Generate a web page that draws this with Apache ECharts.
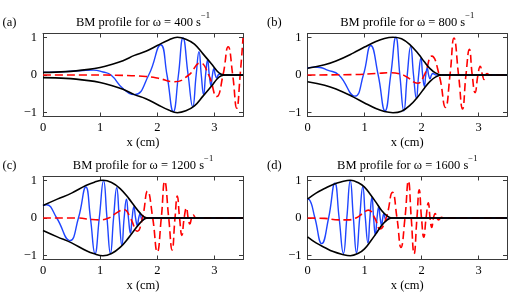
<!DOCTYPE html>
<html><head><meta charset="utf-8">
<script src="https://cdn.jsdelivr.net/npm/echarts@6/dist/echarts.min.js"></script>
<style>html,body{margin:0;padding:0;background:#fff}#c{width:514px;height:296px}</style>
</head><body><div id="c"></div>
<script>
// ---- data ----
const xTicks = [0, 1, 2, 3];
const yTicks = [-1, 0, 1];
const omegas = [400, 800, 1200, 1600];
const panelLabels = ['(a)', '(b)', '(c)', '(d)'];

// panel (a) omega = 400
const envA_x = [0, 0.4, 0.8, 1.0, 1.2, 1.4, 1.6, 1.8, 2.0, 2.2, 2.35, 2.5, 2.65, 2.8, 2.95, 3.05, 3.12, 3.2, 3.5];
const envA_y = [0.07, 0.09, 0.15, 0.2, 0.28, 0.38, 0.52, 0.63, 0.78, 0.93, 1.0, 0.95, 0.82, 0.56, 0.29, 0.1, 0.02, 0, 0];
const reA_x = [0, 0.4, 0.7, 0.88, 1.05, 1.19, 1.4, 1.6, 1.85, 2.06, 2.17, 2.28, 2.37, 2.45, 2.54, 2.62, 2.68, 2.73, 2.77, 2.81, 2.845, 2.88, 2.91, 2.94, 2.965, 2.99, 3.015, 3.04, 3.065, 3.09, 3.14, 3.5];
const reA_y = [0.07, 0.09, 0.12, 0.13, 0.08, 0, -0.36, -0.52, 0, 0.8, 0, -0.97, 0, 0.98, 0, -0.84, 0, 0.62, 0, -0.52, 0, 0.4, 0, -0.28, 0, 0.17, 0, -0.08, 0, 0.02, 0, 0];
const imA_x = [0, 0.8, 1.4, 1.8, 2.0, 2.3, 2.55, 2.75, 2.9, 3.04, 3.15, 3.24, 3.32, 3.39, 3.45, 3.5];
const imA_y = [0, 0, -0.01, -0.04, -0.08, -0.18, 0, 0.32, 0, -0.57, 0, 0.75, 0, -0.88, 0, 0.98];

// panel (b) omega = 800
const envB_x = [0, 0.3, 0.5, 0.8, 1.0, 1.2, 1.35, 1.5, 1.65, 1.8, 1.95, 2.05, 2.15, 2.25, 2.35, 3.5];
const envB_y = [0.18, 0.27, 0.37, 0.58, 0.74, 0.89, 0.97, 1.0, 0.96, 0.8, 0.55, 0.35, 0.17, 0.05, 0, 0];
const reB_x = [0, 0.12, 0.22, 0.35, 0.55, 0.83, 0.98, 1.11, 1.24, 1.36, 1.46, 1.55, 1.62, 1.69, 1.75, 1.81, 1.86, 1.91, 1.95, 1.99, 2.02, 2.05, 2.075, 2.1, 2.125, 2.15, 2.175, 2.2, 2.26, 3.5];
const reB_y = [0.18, 0.21, 0.2, 0.13, 0, -0.56, 0, 0.78, 0, -0.95, 0, 1.0, 0, -0.95, 0, 0.76, 0, -0.62, 0, 0.45, 0, -0.3, 0, 0.19, 0, -0.1, 0, 0.04, 0, 0];
const imB_x = [0, 0.8, 1.2, 1.45, 1.62, 1.75, 1.93, 2.05, 2.18, 2.31, 2.42, 2.5, 2.57, 2.65, 2.72, 2.78, 2.84, 2.89, 2.94, 2.99, 3.03, 3.07, 3.1, 3.15, 3.2, 3.5];
const imB_y = [0, 0.01, 0.04, 0.06, 0.03, -0.06, -0.22, 0, 0.5, 0, -0.86, 0, 0.98, 0, -0.9, 0, 0.68, 0, -0.47, 0, 0.23, 0, -0.12, 0.04, 0, 0];

// panel (c) omega = 1200
const envC_x = [0, 0.25, 0.5, 0.75, 0.9, 1.05, 1.2, 1.35, 1.5, 1.6, 1.7, 1.78, 1.85, 3.5];
const envC_y = [0.33, 0.5, 0.66, 0.86, 0.95, 1.0, 0.94, 0.78, 0.52, 0.32, 0.13, 0.02, 0, 0];
const reC_x = [0, 0.06, 0.24, 0.47, 0.62, 0.75, 0.83, 0.91, 0.985, 1.06, 1.12, 1.18, 1.235, 1.29, 1.335, 1.38, 1.42, 1.46, 1.495, 1.53, 1.56, 1.59, 1.62, 1.65, 1.675, 1.7, 1.72, 1.74, 1.8, 3.5];
const reC_y = [0.33, 0.35, 0, -0.6, 0, 0.82, 0, -0.94, 0, 0.99, 0, -0.94, 0, 0.8, 0, -0.72, 0, 0.5, 0, -0.4, 0, 0.3, 0, -0.2, 0, 0.12, 0, -0.06, 0, 0];
const imC_x = [0, 0.6, 0.85, 1.0, 1.15, 1.3, 1.42, 1.53, 1.65, 1.74, 1.83, 1.92, 2.0, 2.07, 2.13, 2.2, 2.26, 2.31, 2.35, 2.39, 2.43, 2.47, 2.51, 2.54, 2.57, 2.6, 2.63, 2.68, 3.5];
const imC_y = [0, 0, -0.04, -0.05, 0, 0.15, 0.22, 0, -0.35, 0, 0.71, 0, -0.9, 0, 0.97, 0, -0.85, 0, 0.58, 0, -0.46, 0, 0.27, 0, -0.16, 0, 0.08, 0, 0];

// panel (d) omega = 1600
const envD_x = [0, 0.15, 0.3, 0.45, 0.6, 0.75, 0.9, 1.0, 1.1, 1.2, 1.3, 1.4, 1.48, 3.5];
const envD_y = [0.5, 0.66, 0.78, 0.89, 0.96, 1.0, 0.93, 0.82, 0.63, 0.42, 0.2, 0.05, 0, 0];
const reD_x = [0, 0.03, 0.13, 0.25, 0.37, 0.48, 0.555, 0.63, 0.69, 0.75, 0.805, 0.86, 0.915, 0.97, 1.015, 1.06, 1.095, 1.13, 1.16, 1.19, 1.22, 1.25, 1.275, 1.3, 1.32, 1.34, 1.36, 1.38, 1.44, 3.5];
const reD_y = [0.5, 0.49, 0, -0.68, 0, 0.92, 0, -0.94, 0, 0.99, 0, -0.92, 0, 0.83, 0, -0.66, 0, 0.55, 0, -0.45, 0, 0.3, 0, -0.2, 0, 0.12, 0, -0.05, 0, 0];
const imD_x = [0, 0.3, 0.55, 0.7, 0.85, 0.95, 1.07, 1.18, 1.27, 1.38, 1.49, 1.57, 1.64, 1.71, 1.77, 1.82, 1.87, 1.92, 1.96, 2.0, 2.04, 2.08, 2.12, 2.15, 2.18, 2.21, 2.24, 2.27, 2.3, 2.35, 2.4, 3.5];
const imD_y = [0, -0.01, -0.05, -0.05, 0, 0.1, 0.21, 0, -0.29, 0, 0.68, 0, -0.78, 0, 0.98, 0, -0.95, 0, 0.75, 0, -0.51, 0, 0.4, 0, -0.25, 0, 0.12, 0, -0.05, 0.02, 0, 0];

// ---- build ----
function zip(xs, ys, s) { return xs.map((x, i) => [x, (s || 1) * ys[i]]); }
const panels = [
  { env: [envA_x, envA_y], re: [reA_x, reA_y], im: [imA_x, imA_y] },
  { env: [envB_x, envB_y], re: [reB_x, reB_y], im: [imB_x, imB_y] },
  { env: [envC_x, envC_y], re: [reC_x, reC_y], im: [imC_x, imC_y] },
  { env: [envD_x, envD_y], re: [reD_x, reD_y], im: [imD_x, imD_y] }
];
const FONT = 'Liberation Serif';
const AX = '#3a3a3a';
const grids = [
  { left: 43, top: 33.5, width: 200, height: 83 },
  { left: 307.5, top: 33.5, width: 199.5, height: 83 },
  { left: 43, top: 176.5, width: 200, height: 83 },
  { left: 307.5, top: 176.5, width: 199.5, height: 83 }
];
const fmt = v => (v < 0 ? '\u2212' + (-v) : String(v));
const option = { animation: false, grid: grids, xAxis: [], yAxis: [], series: [], graphic: [] };

panels.forEach((p, i) => {
  const tick = vals => ({ show: true, inside: true, length: 4, customValues: vals, lineStyle: { color: AX, width: 1 } });
  const line = { show: true, onZero: false, lineStyle: { color: AX, width: 1 } };
  option.xAxis.push({
    gridIndex: i, type: 'value', min: 0, max: 3.5, position: 'bottom',
    name: 'x (cm)', nameLocation: 'middle', nameGap: 20,
    nameTextStyle: { fontFamily: FONT, fontSize: 12.5, color: '#000' },
    axisLine: line, axisTick: tick(xTicks),
    axisLabel: { customValues: xTicks, fontFamily: FONT, fontSize: 12.5, color: '#000', margin: 5, formatter: fmt },
    splitLine: { show: false }
  });
  option.xAxis.push({
    gridIndex: i, type: 'value', min: 0, max: 3.5, position: 'top',
    axisLine: line, axisTick: tick(xTicks), axisLabel: { show: false }, splitLine: { show: false }
  });
  option.yAxis.push({
    gridIndex: i, type: 'value', min: -1.1, max: 1.1, position: 'left',
    axisLine: line, axisTick: tick(yTicks),
    axisLabel: { customValues: yTicks, fontFamily: FONT, fontSize: 12.5, color: '#000', margin: 6, formatter: fmt },
    splitLine: { show: false }
  });
  option.yAxis.push({
    gridIndex: i, type: 'value', min: -1.1, max: 1.1, position: 'right',
    axisLine: line, axisTick: tick(yTicks), axisLabel: { show: false }, splitLine: { show: false }
  });
  const xi = 2 * i, yi = 2 * i;
  option.series.push({
    type: 'line', xAxisIndex: xi, yAxisIndex: yi, data: zip(p.re[0], p.re[1]),
    showSymbol: false, symbol: 'none', smooth: 0.5, z: 2,
    lineStyle: { color: '#1f45ff', width: 1.4 }
  });
  option.series.push({
    type: 'line', xAxisIndex: xi, yAxisIndex: yi, data: zip(p.im[0], p.im[1]),
    showSymbol: false, symbol: 'none', smooth: 0.5, z: 3,
    lineStyle: { color: '#ff0000', width: 1.6, type: [8, 4] }
  });
  option.series.push({
    type: 'line', xAxisIndex: xi, yAxisIndex: yi, data: zip(p.env[0], p.env[1]),
    showSymbol: false, symbol: 'none', smooth: 0.4, z: 4,
    lineStyle: { color: '#000', width: 1.6 }
  });
  option.series.push({
    type: 'line', xAxisIndex: xi, yAxisIndex: yi, data: zip(p.env[0], p.env[1], -1),
    showSymbol: false, symbol: 'none', smooth: 0.4, z: 4,
    lineStyle: { color: '#000', width: 1.6 }
  });
  const g = grids[i];
  option.graphic.push({
    type: 'text', x: g.left + g.width / 2, y: g.top - 4.5,
    style: {
      text: '{m|BM profile for \u03c9 = ' + omegas[i] + ' s}{s|\u22121}',
      align: 'center', verticalAlign: 'bottom',
      rich: {
        m: { fontFamily: FONT, fontSize: 12.5, lineHeight: 18, verticalAlign: 'bottom', fill: '#000' },
        s: { fontFamily: FONT, fontSize: 8.5, lineHeight: 9, verticalAlign: 'top', fill: '#000' }
      }
    }
  });
  option.graphic.push({
    type: 'text', x: i % 2 === 0 ? 2.5 : 267, y: g.top - 4.5,
    style: { text: panelLabels[i], fontFamily: FONT, fontSize: 12.5, fill: '#000', align: 'left', verticalAlign: 'bottom' }
  });
});

const chart = echarts.init(document.getElementById('c'), null, { renderer: 'canvas' });
chart.setOption(option);
</script>
</body></html>
